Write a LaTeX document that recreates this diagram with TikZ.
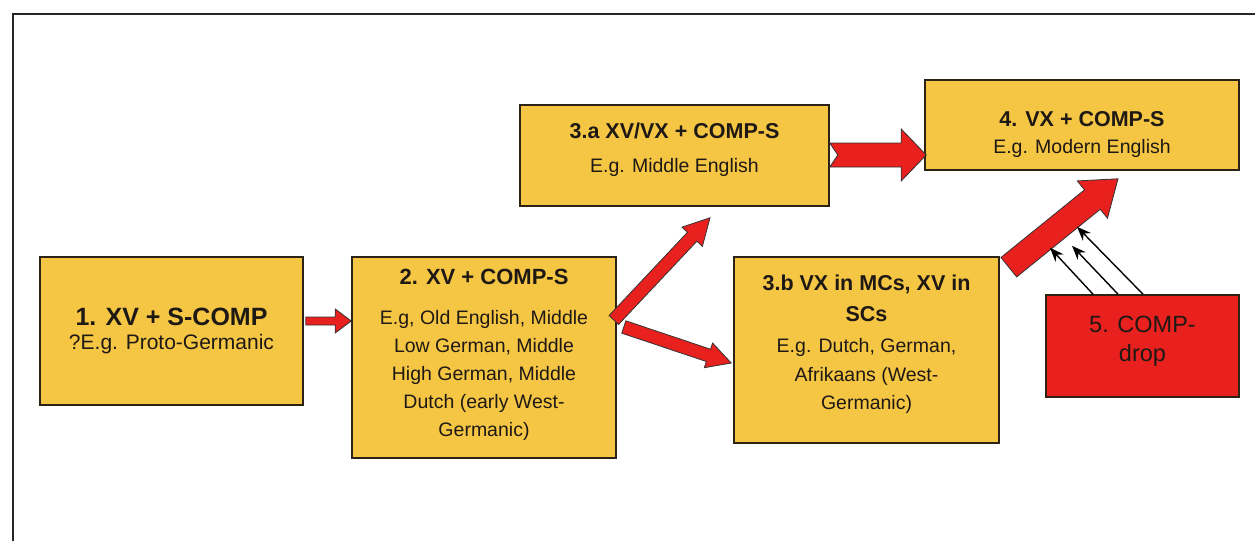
\documentclass[tikz,border=0pt]{standalone}
\usepackage{fontspec}
\setmainfont{Liberation Sans}
\usetikzlibrary{calc,arrows.meta}
\definecolor{boxfill}{RGB}{245,197,68}
\definecolor{boxline}{RGB}{45,35,20}
\definecolor{redfill}{RGB}{232,32,30}
\definecolor{txt}{RGB}{30,25,20}
% from, to, half body width, half head width, head length, tail notch
\newcommand\stagearrow[6]{%
  \coordinate (bahead) at ($(#2)!#5!(#1)$);
  \filldraw[bigarrow] ($(#1)!#3!90:(#2)$) -- ($(bahead)!#3!90:(#2)$)
    -- ($(bahead)!#4!90:(#2)$) -- (#2) -- ($(bahead)!#4!-90:(#2)$)
    -- ($(bahead)!#3!-90:(#2)$) -- ($(#1)!#3!-90:(#2)$)
    -- ($(#1)!#6!(#2)$) -- cycle;}
\newcommand\lowstrut[1]{\rule[-#1]{0pt}{#1}}
\begin{document}
\begin{tikzpicture}[x=1pt,y=-1pt,
  stagebox/.style={draw=boxline, line width=1.6pt, fill=boxfill, inner sep=0pt,
    align=center, text=txt},
  dropbox/.style={stagebox, fill=redfill},
  thinarrow/.style={draw=black, line width=1.4pt, -{Stealth[length=14pt,width=11pt]}},
  bigarrow/.style={fill=redfill, draw=black!80, line width=0.8pt, line join=miter}]
\useasboundingbox (0,0) rectangle (1255,541);
\fill[white] (0,0) rectangle (1255,541);
\draw[line width=2pt, black!85] (13,541) -- (13,14) -- (1255,14);

\node[stagebox, minimum width=263pt, minimum height=148pt,
  font=\fontsize{21}{24}\selectfont] (b1) at (171.5,331)
  {{\fontsize{25}{25}\selectfont\bfseries 1. XV + S-COMP}\\ ?E.g. Proto-Germanic};
\node[stagebox, minimum width=264pt, minimum height=201pt,
  font=\fontsize{19.5}{28}\selectfont] (b2) at (484,357.5)
  {{\fontsize{22}{28}\selectfont\bfseries 2. XV + COMP-S}\\[12pt]
   E.g, Old English,  Middle\\ Low German, Middle\\ High German, Middle\\
   Dutch (early West-\\ Germanic)\lowstrut{10pt}};
\node[stagebox, minimum width=309pt, minimum height=101pt,
  font=\fontsize{19.5}{34}\selectfont] (b3a) at (674.5,155.5)
  {{\fontsize{21.5}{34}\selectfont\bfseries 3.a XV/VX + COMP-S}\\ E.g. Middle English\lowstrut{16pt}};
\node[stagebox, minimum width=314pt, minimum height=90pt,
  font=\fontsize{19.5}{27}\selectfont] (b4) at (1082,125)
  {\rule{0pt}{33.5pt}{\fontsize{21.5}{27}\selectfont\bfseries 4. VX + COMP-S}\\ E.g. Modern English};
\node[stagebox, minimum width=265pt, minimum height=186pt,
  font=\fontsize{19.5}{28.5}\selectfont] (b3b) at (866.5,350)
  {{\fontsize{21.5}{28}\selectfont\bfseries 3.b VX in MCs, XV in}\\[3pt]
   {\fontsize{21.5}{28}\selectfont\bfseries SCs}\\[2.5pt]
   E.g. Dutch, German,\\ Afrikaans (West-\\ Germanic)\lowstrut{16pt}};
\node[dropbox, minimum width=193pt, minimum height=102pt,
  font=\fontsize{23.5}{29}\selectfont] (b5) at (1142.5,346)
  {5. COMP-\\ drop\lowstrut{15pt}};

% connector end points
\coordinate (a12s) at ($(b1.east)+(2,-10)$);
\coordinate (a12e) at ($(b2.west)+(0,-36.5)$);
\coordinate (a23as) at ($(b2.east)+(-3,-37.5)$);
\coordinate (a23ae) at ($(b3a.south)+(35.5,11)$);
\coordinate (a23bs) at ($(b2.east)+(7,-30.5)$);
\coordinate (a23be) at ($(b3b.west)+(-2,13)$);
\coordinate (a3a4s) at ($(b3a.east)+(0,-0.5)$);
\coordinate (a3a4e) at ($(b4.west)+(2,30)$);
\coordinate (a3b4s) at ($(b3b.north east)+(9,11)$);
\coordinate (a3b4e) at ($(b4.south)+(36,8)$);
\coordinate (t1s) at ($(b5.north)+(-49.5,0)$);
\coordinate (t2s) at ($(b5.north)+(-24.5,0)$);
\coordinate (t3s) at ($(b5.north)+(0.5,0)$);
\coordinate (t1e) at ($(b4.south)+(-32,77)$);
\coordinate (t2e) at ($(b4.south)+(-10,75)$);
\coordinate (t3e) at ($(b4.south)+(-5,56)$);

\stagearrow{a12s}{a12e}{4pt}{12pt}{16pt}{0pt}
\stagearrow{a23as}{a23ae}{6.5pt}{14pt}{26pt}{0pt}
\stagearrow{a23bs}{a23be}{6.5pt}{13pt}{24pt}{0pt}
\stagearrow{a3a4s}{a3a4e}{12pt}{26pt}{25pt}{8pt}
\stagearrow{a3b4s}{a3b4e}{12.5pt}{24pt}{33pt}{0pt}

\draw[thinarrow] (t1s) -- (t1e);
\draw[thinarrow] (t2s) -- (t2e);
\draw[thinarrow] (t3s) -- (t3e);
\end{tikzpicture}
\end{document}
